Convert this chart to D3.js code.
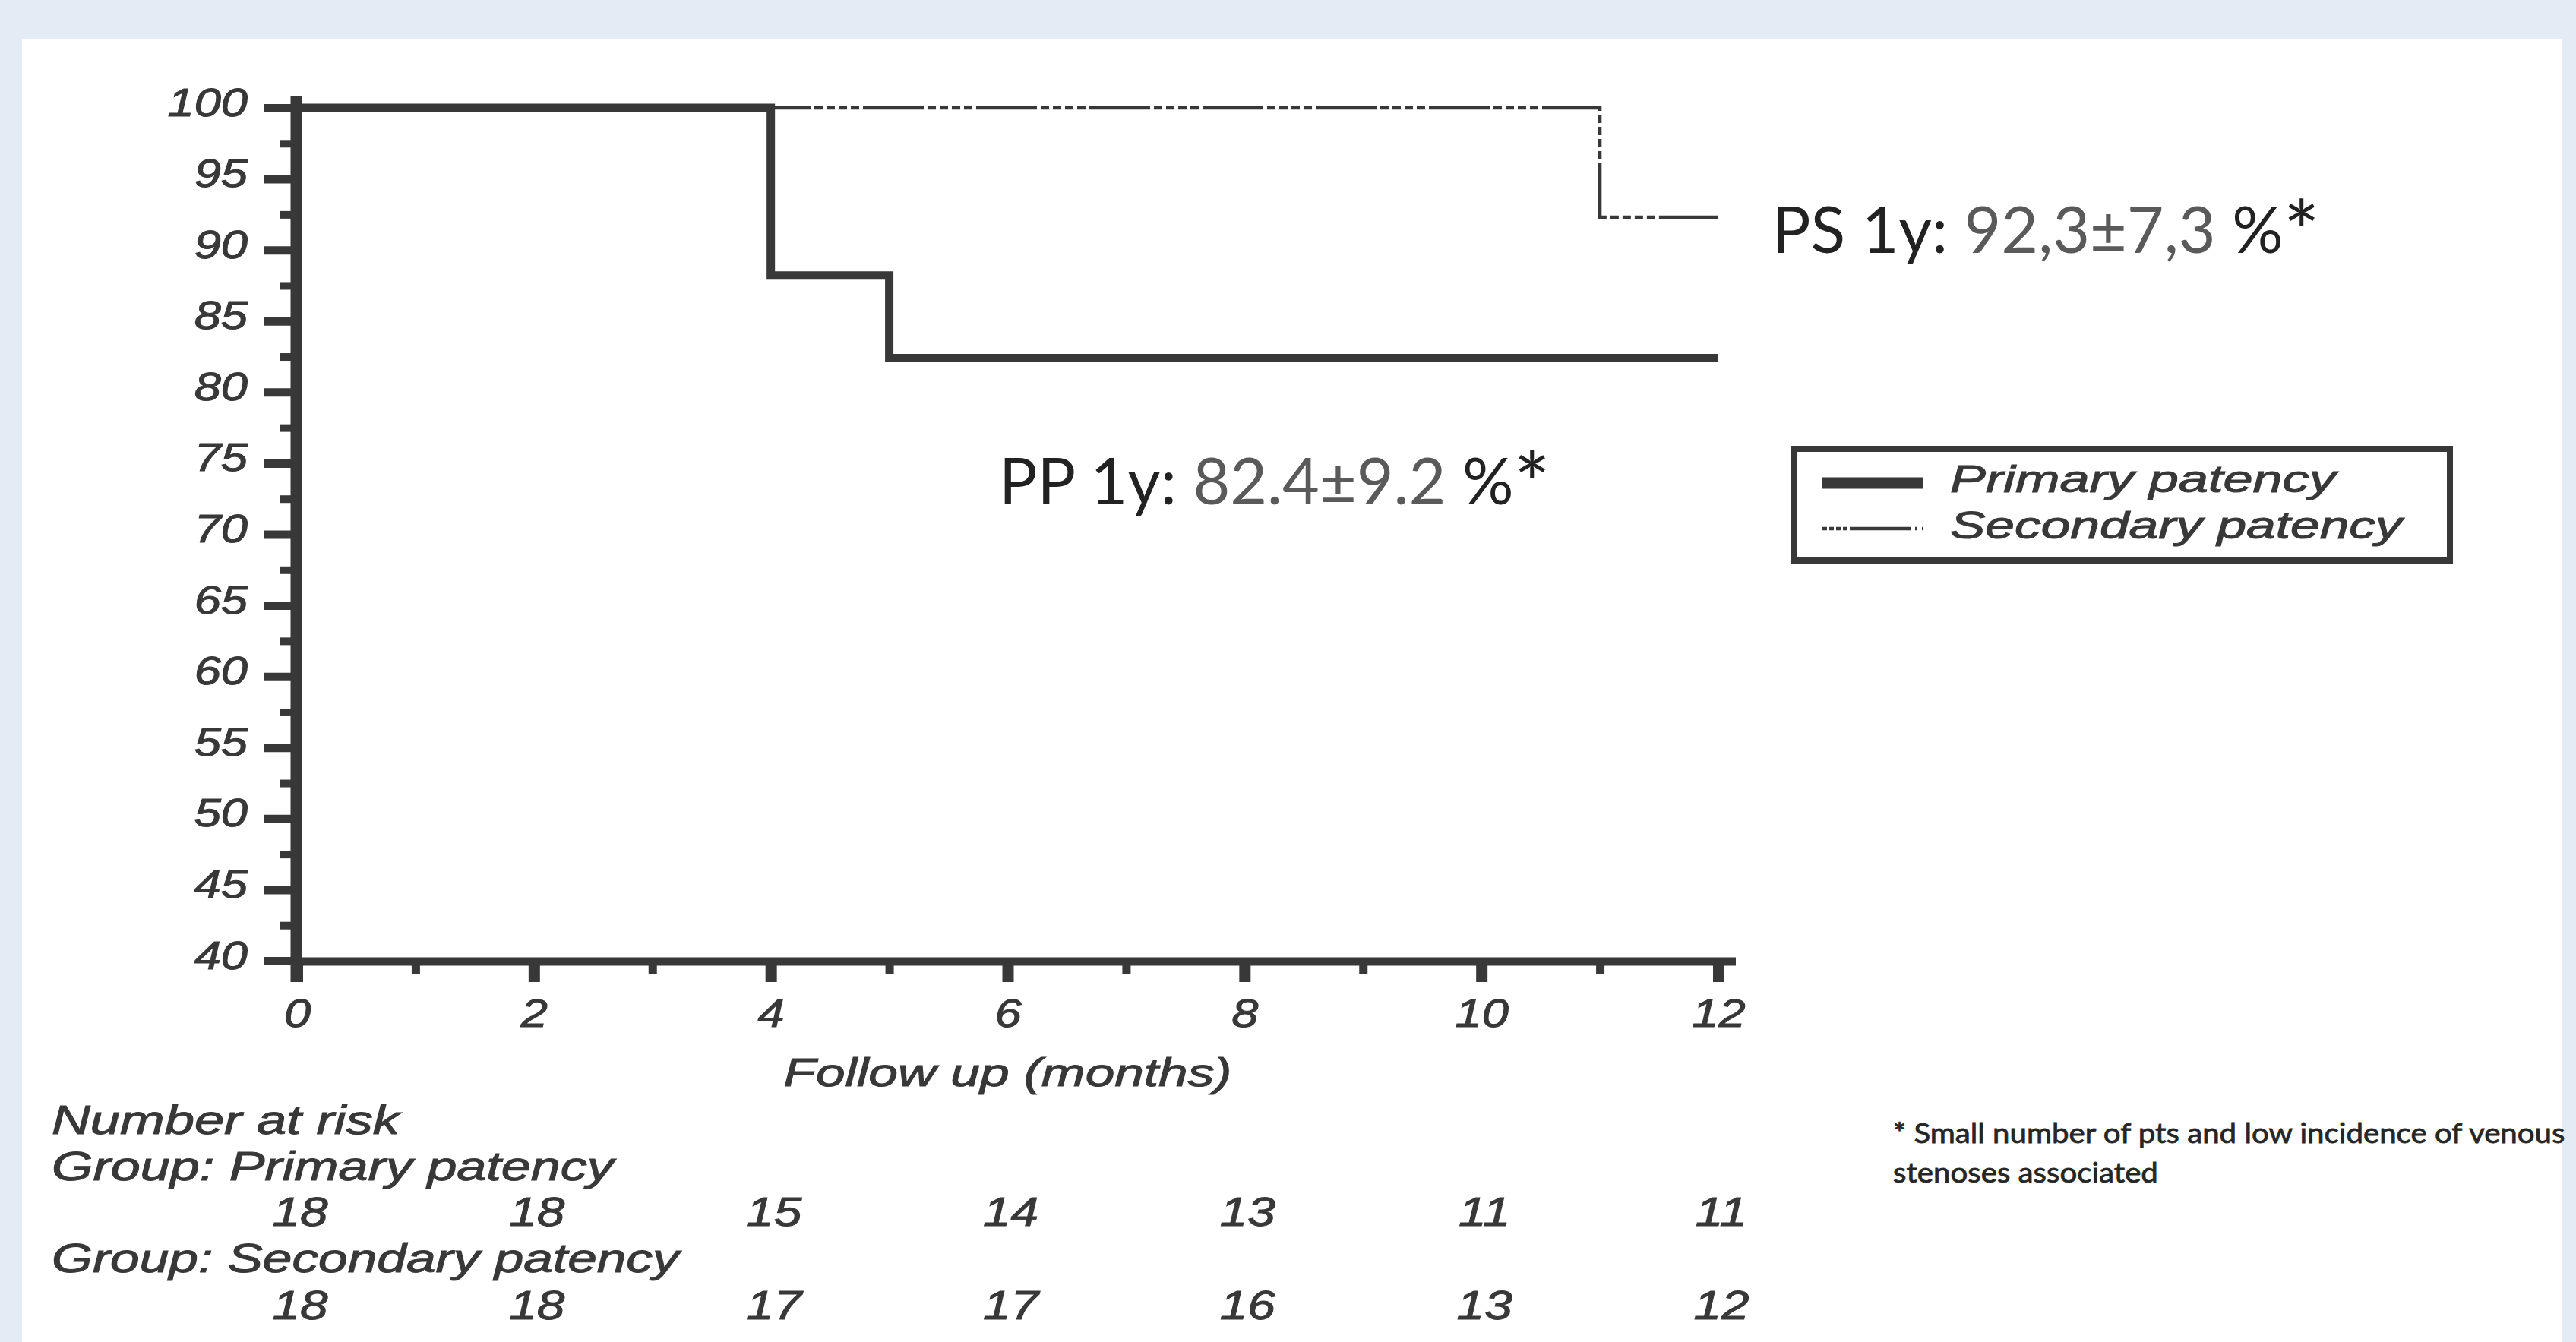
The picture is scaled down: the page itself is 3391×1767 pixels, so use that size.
<!DOCTYPE html>
<html>
<head>
<meta charset="utf-8">
<script src="https://cdn.jsdelivr.net/npm/d3@7"></script>
<style>
  html, body { margin: 0; padding: 0; background: #e3ecf5; }
  svg { display: block; }
</style>
</head>
<body>
<svg id="chart" width="3391" height="1767"></svg>
<script>
// ---------- data ----------
const primaryTimes  = [0, 4, 5, 12];
const primaryValues = [100, 88.2, 82.4, 82.4];
const secondaryTimes  = [0, 11, 12];
const secondaryValues = [100, 92.3, 92.3];

const xMajorTicks = [0, 2, 4, 6, 8, 10, 12];
const xMinorTicks = [1, 3, 5, 7, 9, 11];
const yMajorTicks = [40, 45, 50, 55, 60, 65, 70, 75, 80, 85, 90, 95, 100];
const yMinorTicks = [42.5, 47.5, 52.5, 57.5, 62.5, 67.5, 72.5, 77.5, 82.5, 87.5, 92.5, 97.5];

const riskTimes = [0, 2, 4, 6, 8, 10, 12];
const riskPrimary   = [18, 18, 15, 14, 13, 11, 11];
const riskSecondary = [18, 18, 17, 17, 16, 13, 12];

const seriesNames = ["Primary patency", "Secondary patency"];
const xTitle = "Follow up (months)";
const riskTitle = "Number at risk";
const riskGroupLabels = ["Group: Primary patency", "Group: Secondary patency"];
const annotPS = ["PS 1y: ", "92,3±7,3", " %", "*"];
const annotPP = ["PP 1y: ", "82.4±9.2", " %", "*"];
const footnote = ["* Small number of pts and low incidence of venous", "stenoses associated"];

// ---------- setup ----------
const svg = d3.select("#chart");
const INK = "#383838";
const ARIAL = "'Liberation Sans', Arial, sans-serif";
const CAL = "Lato, 'Open Sans', sans-serif";

svg.append("rect").attr("x", 0).attr("y", 0).attr("width", 3391).attr("height", 1767).attr("fill", "#e3ecf5");
svg.append("rect").attr("x", 29).attr("y", 52).attr("width", 3344).attr("height", 1767).attr("fill", "#ffffff");

const x = d3.scaleLinear().domain([0, 12]).range([391, 2262]);
const y = d3.scaleLinear().domain([40, 100]).range([1265, 142]);

function stretch(sel, k) {
  sel.each(function () {
    const w = this.getComputedTextLength();
    d3.select(this).attr("textLength", w * k).attr("lengthAdjust", "spacingAndGlyphs");
  });
}
function fitText(text, width) {
  const w = text.node().getComputedTextLength();
  text.attr("transform", `scale(${width / w},1)`);
}
function arialStyle(sel, size) {
  sel.attr("fill", INK).attr("font-family", ARIAL).attr("font-style", "italic")
    .attr("font-size", size).attr("stroke", INK).attr("stroke-width", 1);
}

// ---------- axes ----------
const yAxisG = svg.append("g").attr("transform", `translate(${x(0) - 8},0)`);
yAxisG.call(d3.axisLeft(y).tickValues(yMajorTicks).tickSize(36).tickPadding(21).tickFormat(d3.format("d")));
yAxisG.select(".domain").remove();
yAxisG.selectAll(".tick line").attr("stroke", INK).attr("stroke-width", 11);
arialStyle(yAxisG.selectAll(".tick text"), 51);
yAxisG.selectAll(".tick text").attr("dy", null).attr("y", 10);
stretch(yAxisG.selectAll(".tick text"), 1.24);

const yMinorG = svg.append("g").attr("transform", `translate(${x(0) - 8},0)`);
yMinorG.call(d3.axisLeft(y).tickValues(yMinorTicks).tickSize(14).tickFormat(""));
yMinorG.select(".domain").remove();
yMinorG.selectAll(".tick line").attr("stroke", INK).attr("stroke-width", 10);

const xAxisG = svg.append("g").attr("transform", `translate(0,${y(40) + 5})`);
xAxisG.call(d3.axisBottom(x).tickValues(xMajorTicks).tickSize(23).tickPadding(31).tickFormat(d3.format("d")));
xAxisG.select(".domain").remove();
xAxisG.selectAll(".tick line").attr("stroke", INK).attr("stroke-width", 15);
arialStyle(xAxisG.selectAll(".tick text"), 51);
xAxisG.selectAll(".tick text").attr("dy", null).attr("y", 82);
stretch(xAxisG.selectAll(".tick text"), 1.24);

const xMinorG = svg.append("g").attr("transform", `translate(0,${y(40) + 5})`);
xMinorG.call(d3.axisBottom(x).tickValues(xMinorTicks).tickSize(13).tickFormat(""));
xMinorG.select(".domain").remove();
xMinorG.selectAll(".tick line").attr("stroke", INK).attr("stroke-width", 11);

// axis lines
svg.append("line").attr("x1", x(0) - 1).attr("x2", x(0) - 1).attr("y1", 126).attr("y2", 1293)
  .attr("stroke", INK).attr("stroke-width", 15);
svg.append("line").attr("x1", x(0) - 8).attr("x2", 2285).attr("y1", y(40) + 1).attr("y2", y(40) + 1)
  .attr("stroke", INK).attr("stroke-width", 11);

// ---------- curves ----------
const line = d3.line().x(d => x(d[0])).y(d => y(d[1])).curve(d3.curveStepAfter);
const secPts = secondaryTimes.map((t, i) => [t, secondaryValues[i]]);
const priPts = primaryTimes.map((t, i) => [t, primaryValues[i]]);
const DASH = "80,5,11,5,11,5,11,5,11,5";

svg.append("path").datum(secPts).attr("d", line).attr("fill", "none")
  .attr("stroke", INK).attr("stroke-width", 4.5).attr("stroke-dasharray", DASH);
svg.append("path").datum(priPts).attr("d", line).attr("fill", "none")
  .attr("stroke", INK).attr("stroke-width", 11).attr("stroke-linejoin", "miter");

// ---------- x title ----------
const xt = svg.append("g").attr("transform", `translate(${x(6)},1430)`)
  .append("text").attr("text-anchor", "middle").text(xTitle);
arialStyle(xt, 52);
fitText(xt, 590);

// ---------- number at risk ----------
function leftText(str, px, py, width, size) {
  const t = svg.append("g").attr("transform", `translate(${px},${py})`)
    .append("text").text(str);
  arialStyle(t, size);
  fitText(t, width);
  return t;
}
leftText(riskTitle, 68, 1493, 458, 53);
leftText(riskGroupLabels[0], 68, 1554, 740, 53);
leftText(riskGroupLabels[1], 68, 1675, 826, 53);

function riskRow(vals, py) {
  const g = svg.append("g");
  g.selectAll("text").data(riskTimes).join("text")
    .attr("x", d => x(d) + 4).attr("y", py).attr("text-anchor", "middle")
    .text((d, i) => vals[i]);
  arialStyle(g.selectAll("text"), 53);
  stretch(g.selectAll("text"), 1.24);
}
riskRow(riskPrimary, 1614);
riskRow(riskSecondary, 1737);

// ---------- legend ----------
svg.append("rect").attr("x", 2361).attr("y", 591).attr("width", 864).attr("height", 147)
  .attr("fill", "none").attr("stroke", INK).attr("stroke-width", 8);
svg.append("line").attr("x1", 2399).attr("x2", 2531).attr("y1", 636).attr("y2", 636)
  .attr("stroke", INK).attr("stroke-width", 15);
svg.append("line").attr("x1", 2399).attr("x2", 2531).attr("y1", 696).attr("y2", 696)
  .attr("stroke", INK).attr("stroke-width", 4.5).attr("stroke-dasharray", "6,3,6,3,6,3,6,3,80");
leftText(seriesNames[0], 2567, 648, 508, 50);
leftText(seriesNames[1], 2567, 709, 595, 50);

// ---------- annotations ----------
function annot(parts, px, py, width) {
  const t = svg.append("g").attr("transform", `translate(${px},${py})`)
    .append("text").attr("font-family", CAL).attr("font-size", 85);
  t.append("tspan").attr("fill", "#222222").text(parts[0]);
  t.append("tspan").attr("fill", "#5a5a5a").text(parts[1]);
  t.append("tspan").attr("fill", "#222222").text(parts[2]);
  t.append("tspan").attr("fill", "#222222").attr("font-size", 115).attr("dy", 14).text(parts[3]);
  fitText(t, width);
}
annot(annotPS, 2333, 333, 721);
annot(annotPP, 1315, 664, 726);

// ---------- footnote ----------
function foot(str, px, py, width) {
  const t = svg.append("g").attr("transform", `translate(${px},${py})`)
    .append("text").attr("font-family", CAL).attr("font-size", 37).attr("fill", "#262626")
    .attr("stroke", "#262626").attr("stroke-width", 0.8).text(str);
  fitText(t, width);
}
foot(footnote[0], 2492, 1505, 885);
foot(footnote[1], 2492, 1557, 349);
</script>
</body>
</html>
